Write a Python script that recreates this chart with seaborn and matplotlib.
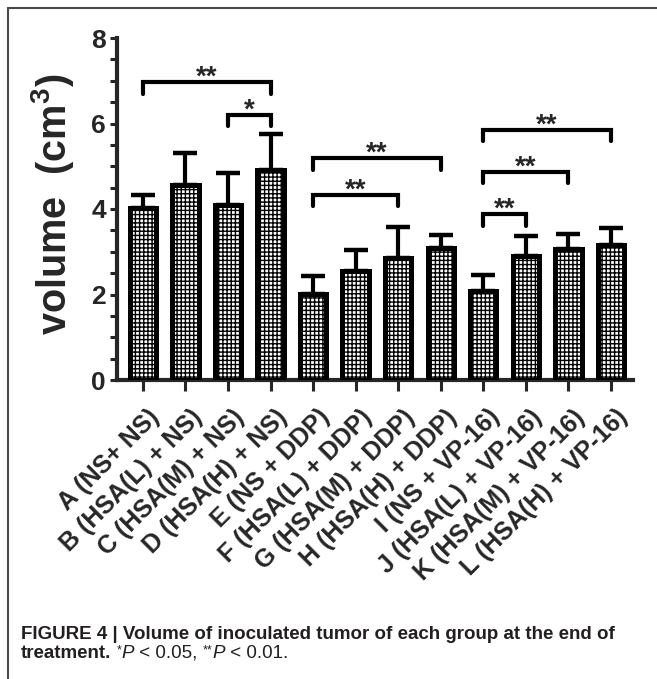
import numpy as np
import pandas as pd
import matplotlib
matplotlib.use("Agg")
import matplotlib.pyplot as plt
import matplotlib.transforms as mtransforms
from matplotlib.lines import Line2D
from matplotlib.ticker import MultipleLocator
import seaborn as sns

# ---- data -------------------------------------------------------------
groups = ["A (NS+ NS)", "B (HSA(L) + NS)", "C (HSA(M) + NS)", "D (HSA(H) + NS)",
          "E (NS + DDP)", "F (HSA(L) + DDP)", "G (HSA(M) + DDP)", "H (HSA(H) + DDP)",
          "I (NS + VP-16)", "J (HSA(L) + VP-16)", "K (HSA(M) + VP-16)",
          "L (HSA(H) + VP-16)"]
volume_mean = [4.02, 4.56, 4.09, 4.91, 2.01, 2.55, 2.85, 3.08, 2.08, 2.90, 3.06, 3.15]
volume_sd = [0.30, 0.75, 0.75, 0.84, 0.42, 0.49, 0.73, 0.31, 0.37, 0.47, 0.35, 0.40]

# significance brackets: (left group, right group, bracket height, mark)
sig_left = [0, 2, 4, 4, 8, 8, 8]
sig_right = [3, 3, 7, 6, 11, 10, 9]
sig_height = [6.97, 6.20, 5.19, 4.33, 5.85, 4.87, 3.88]
sig_mark = ["**", "*", "**", "**", "**", "**", "**"]

y_ticks = [0, 2, 4, 6, 8]

# ---- style ------------------------------------------------------------
sns.set_style("ticks")
plt.rcParams["font.family"] = ["Liberation Sans", "DejaVu Sans"]
plt.rcParams["mathtext.fontset"] = "custom"
plt.rcParams["mathtext.rm"] = "Liberation Sans:bold"
plt.rcParams["mathtext.bf"] = "Liberation Sans:bold"
plt.rcParams["mathtext.it"] = "Liberation Sans:bold:italic"
plt.rcParams["mathtext.default"] = "rm"
plt.rcParams["hatch.linewidth"] = 1.0
plt.rcParams["hatch.color"] = "black"

W, H = 657, 679
fig = plt.figure(figsize=(W / 100, H / 100), dpi=100)
fig.patch.set_facecolor("white")
ax = fig.add_axes([117 / W, 1 - 380 / H, 516 / W, 342 / H])

df = pd.DataFrame({"group": groups, "volume": volume_mean})
sns.barplot(data=df, x="group", y="volume", order=groups, color="white",
            edgecolor="black", linewidth=3.6, width=0.62, errorbar=None,
            saturation=1, ax=ax, zorder=3)
for p in ax.patches:
    p.set_hatch("++++")
    p.set_facecolor("white")
    p.set_edgecolor("black")
    p.set_joinstyle("miter")

xpos = np.arange(len(groups))
ax.errorbar(xpos, volume_mean, yerr=[np.zeros(len(groups)), volume_sd],
            fmt="none", ecolor="black", elinewidth=3.0, capsize=8.5,
            capthick=3.2, zorder=2)

# axes
ax.set_xlim(-0.61, 11.52)
ax.set_ylim(0, 8)
ax.set_yticks(y_ticks)
ax.yaxis.set_minor_locator(MultipleLocator(0.5))
ax.tick_params(axis="y", which="major", length=5, width=2.2, labelsize=19, pad=3)
ax.tick_params(axis="y", which="minor", length=5, width=2.2)
ax.tick_params(axis="x", which="major", length=8, width=2.2, pad=10)
for lab in ax.get_yticklabels():
    lab.set_fontweight("bold")
ax.set_xticks(xpos)
ax.set_xticklabels(groups, rotation=45, ha="right", rotation_mode="anchor",
                   fontsize=18, fontweight="bold")
shift = mtransforms.ScaledTranslation(3 / 72, 0, fig.dpi_scale_trans)
for lab in ax.get_xticklabels():
    lab.set_transform(lab.get_transform() + shift)

sns.despine(ax=ax)
for side in ("left", "bottom"):
    ax.spines[side].set_linewidth(3.0)
ax.set_xlabel("")
ax.set_ylabel("volume  (cm$^{3}$)", fontsize=28.5, fontweight="bold")
ax.yaxis.set_label_coords(-0.08, 0.515)

# significance brackets
drop = 0.27
for a, b, h, m in zip(sig_left, sig_right, sig_height, sig_mark):
    ax.plot([a, a, b, b], [h - drop, h, h, h - drop], color="black", lw=3.0,
            solid_capstyle="round", solid_joinstyle="miter", clip_on=False,
            zorder=4)
    ax.annotate(m, xy=((a + b) / 2, h), xytext=(0, -2), textcoords="offset points",
                ha="center", va="baseline", fontsize=20, fontweight="bold",
                annotation_clip=False)

# outer frame (top and left edges)
fig.add_artist(Line2D([8 / W, 1], [1 - 8 / H, 1 - 8 / H], transform=fig.transFigure,
                      color="#4a4a4a", lw=1.5))
fig.add_artist(Line2D([8 / W, 8 / W], [0, 1 - 8 / H], transform=fig.transFigure,
                      color="#4a4a4a", lw=1.5))

# caption
cap_color = "#231f20"
renderer = fig.canvas.get_renderer()


def text_run(x_px, y_px, pieces):
    x = x_px
    for txt, kw in pieces:
        rise = kw.pop("rise", 0)
        t = fig.text(x / W, 1 - (y_px - rise) / H, txt, color=cap_color,
                     ha="left", va="baseline", **kw)
        x += t.get_window_extent(renderer).width


cap_size = 13.5
text_run(21, 639, [("FIGURE 4 | Volume of inoculated tumor of each group at the end of",
                    dict(fontsize=cap_size, fontweight="bold"))])
text_run(21, 658, [
    ("treatment.", dict(fontsize=cap_size, fontweight="bold")),
    (" ", dict(fontsize=cap_size)),
    ("*", dict(fontsize=9, rise=5)),
    ("P", dict(fontsize=cap_size, style="italic")),
    (" < 0.05, ", dict(fontsize=cap_size)),
    ("**", dict(fontsize=9, rise=5)),
    ("P", dict(fontsize=cap_size, style="italic")),
    (" < 0.01.", dict(fontsize=cap_size)),
])

fig.savefig("out.png", dpi=100, facecolor="white")
